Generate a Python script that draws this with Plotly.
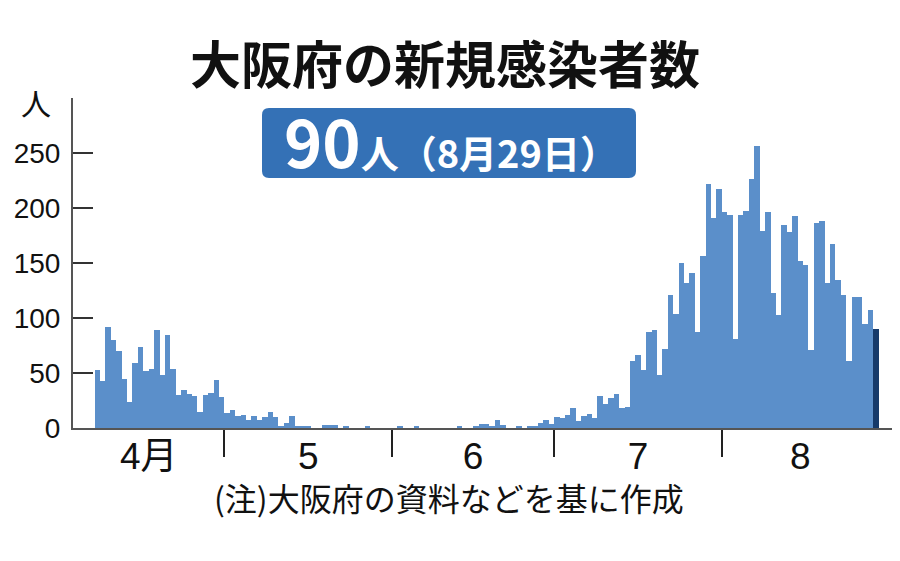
import pandas as pd
import plotly.graph_objects as go

# ---------------- data ----------------
start_date = "2020-04-07"
apr_cases = [53, 43, 92, 80, 70, 45, 24, 59, 74, 52, 54, 89, 48, 85, 54, 30, 35, 31, 29, 15, 30, 32, 44, 28]
may_cases = [14, 16, 11, 12, 7, 11, 7, 10, 15, 10, 1, 5, 11, 2, 2, 1, 0, 0, 3, 3, 3, 0, 1, 0, 0, 0, 1, 0, 0, 0, 0]
jun_cases = [0, 1, 0, 0, 1, 0, 0, 0, 0, 0, 0, 0, 1, 0, 0, 2, 4, 4, 2, 7, 3, 0, 0, 1, 0, 2, 2, 5, 7, 4]
jul_cases = [10, 9, 12, 18, 6, 11, 13, 9, 29, 22, 27, 31, 18, 19, 61, 66, 53, 87, 89, 48, 72, 121, 104, 150,
             132, 141, 87, 156, 222, 191, 217]
aug_cases = [196, 194, 81, 194, 197, 226, 256, 179, 196, 123, 103, 185, 178, 193, 152, 148, 71, 186, 188, 132,
             167, 135, 121, 61, 119, 119, 95, 107, 90]

month_starts = ["2020-05-01", "2020-06-01", "2020-07-01", "2020-08-01"]
month_label_pos = ["2020-04-17", "2020-05-16 12:00", "2020-06-16", "2020-07-16 12:00", "2020-08-15 12:00"]
month_labels = ["4月", "5", "6", "7", "8"]
y_ticks = [0, 50, 100, 150, 200, 250]

title_text = "大阪府の新規感染者数"
latest_value = "90"
latest_label = "人（8月29日）"
unit_label = "人"
note_text = "(注)大阪府の資料などを基に作成"

cases = apr_cases + may_cases + jun_cases + jul_cases + aug_cases
dates = pd.date_range(start_date, periods=len(cases), freq="D")

# ---------------- layout geometry ----------------
# page body has an 8px margin, so the figure is drawn 8px smaller and offset
OFF = 8
W, H = 900 - OFF, 561 - OFF
# plot area in window pixels
PL, PR, PT, PB = 73, 896, 98, 428


def px2x(px):
    return (px - PL) / (PR - PL)


def py2y(py):
    return (PB - py) / (PB - PT)


bar_color = "#5b8fca"
last_color = "#163a6a"
colors = [bar_color] * (len(cases) - 1) + [last_color]

fig = go.Figure()
fig.add_trace(go.Bar(
    x=dates, y=cases,
    marker=dict(color=colors, line=dict(width=0)),
    xperiod=86400000, xperiodalignment="middle",
    width=86400000,
    hoverinfo="x+y",
))

# rounded box for latest value
x0, x1 = px2x(262), px2x(636)
y0, y1 = py2y(178), py2y(108)
rx, ry = 7 / (PR - PL), 7 / (PB - PT)
path = (f"M {x0+rx},{y0} L {x1-rx},{y0} Q {x1},{y0} {x1},{y0+ry} "
        f"L {x1},{y1-ry} Q {x1},{y1} {x1-rx},{y1} L {x0+rx},{y1} Q {x0},{y1} {x0},{y1-ry} "
        f"L {x0},{y0+ry} Q {x0},{y0} {x0+rx},{y0} Z")

fig.update_layout(
    width=W, height=H,
    margin=dict(l=PL - OFF, r=W - (PR - OFF), t=PT - OFF, b=H - (PB - OFF), pad=0, autoexpand=False),
    paper_bgcolor="white", plot_bgcolor="white",
    bargap=0, showlegend=False,
    font=dict(family="Liberation Sans, Noto Sans CJK JP", color="#111"),
    shapes=[dict(type="path", path=path, xref="paper", yref="paper",
                 fillcolor="#3471b6", line=dict(width=0), layer="above")],
    annotations=[
        dict(text=f"<b>{title_text}</b>", x=px2x(445), y=py2y(62.5), xref="paper", yref="paper",
             xanchor="center", yanchor="middle", showarrow=False,
             font=dict(family="Noto Sans CJK JP", size=51, color="#111")),
        dict(text=f"<b><span style='font-size:65px'>{latest_value}</span>{latest_label}</b>",
             x=px2x(451), y=py2y(140), xref="paper", yref="paper",
             xanchor="center", yanchor="middle", showarrow=False,
             font=dict(family="Noto Sans CJK JP", size=38, color="white")),
        dict(text=unit_label, x=px2x(36), y=py2y(102), xref="paper", yref="paper",
             xanchor="center", yanchor="middle", showarrow=False,
             font=dict(family="Noto Sans CJK JP", size=30, color="#111")),
        dict(text=note_text, x=px2x(449), y=py2y(497), xref="paper", yref="paper",
             xanchor="center", yanchor="middle", showarrow=False,
             font=dict(family="Noto Sans CJK JP", size=32, color="#111")),
    ],
)

fig.update_xaxes(
    type="date", automargin=False,
    range=["2020-04-03", "2020-09-02 05:00"],
    showline=True, linecolor="#555", linewidth=2,
    showgrid=False, zeroline=False,
    tickmode="array", tickvals=month_label_pos, ticktext=month_labels,
    ticks="outside", ticklen=0, tickwidth=0,
    ticklabelstandoff=-5,
    tickfont=dict(size=37, family="Liberation Sans, Noto Sans CJK JP", color="#111"),
    minor=dict(tickmode="array", tickvals=month_starts, ticks="outside", ticklen=27,
               tickwidth=1.5, tickcolor="#222", showgrid=False),
    fixedrange=True,
)
fig.update_yaxes(
    range=[0, 300], automargin=False,
    showline=True, linecolor="#555", linewidth=2,
    showgrid=False, zeroline=False,
    tickmode="array", tickvals=y_ticks,
    ticks="inside", ticklen=20, tickwidth=2, tickcolor="#333",
    ticklabelstandoff=5,
    tickfont=dict(size=28, family="Liberation Sans", color="#111"),
    fixedrange=True,
)

fig.write_html("out.html")
